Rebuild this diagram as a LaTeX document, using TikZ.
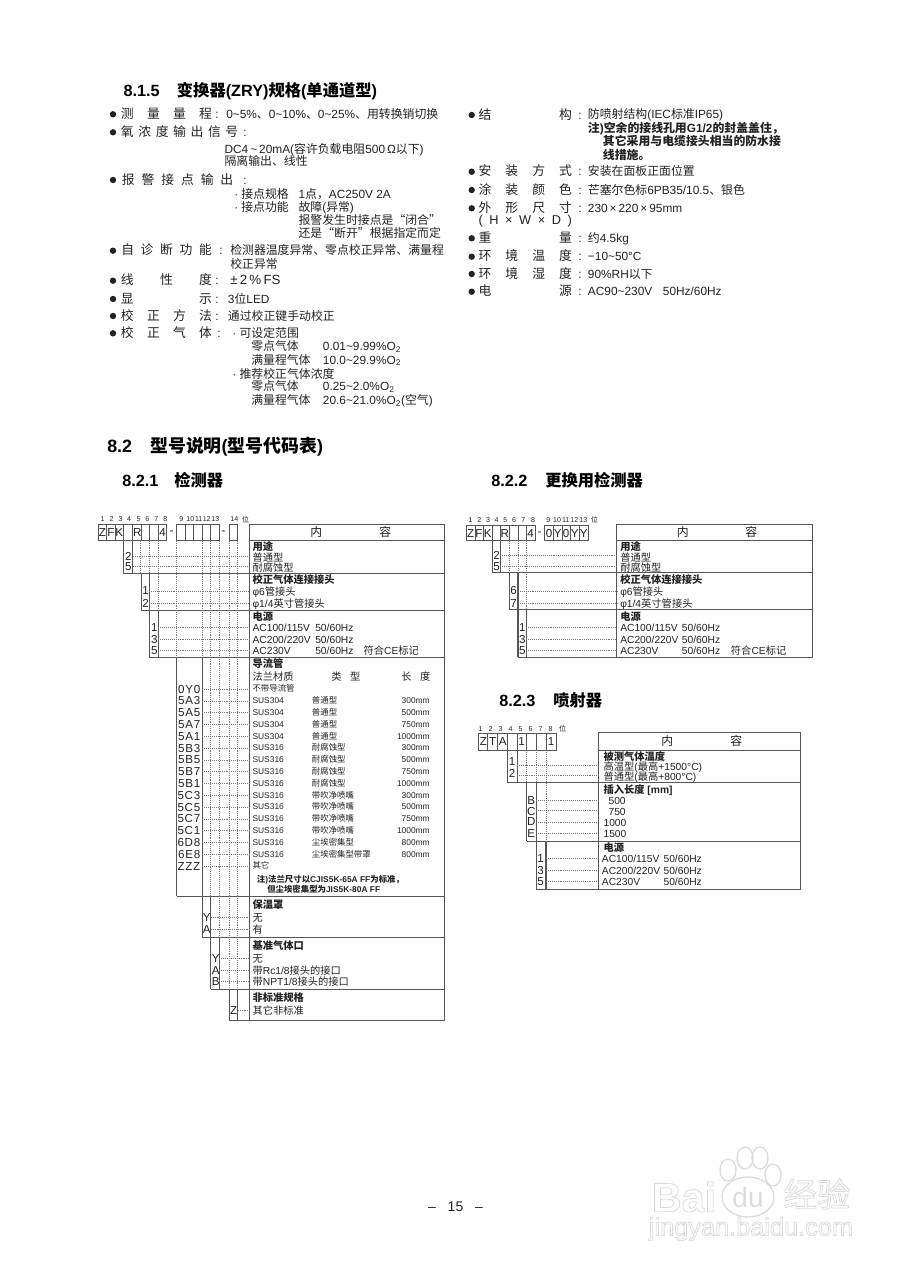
\documentclass[tikz,border=0pt]{standalone}
\usepackage{fontspec}
\setmainfont{Liberation Sans}
\newfontfamily\cjkfont{Noto Sans CJK SC}
% Chinese characters switch to the CJK family on their own
\XeTeXinterchartokenstate=1
\newXeTeXintercharclass\cjkcls
\count255="4E00
\loop\XeTeXcharclass\count255=\cjkcls\ifnum\count255<"9FFF\advance\count255 by 1\repeat
\XeTeXcharclass"3001=\cjkcls
\XeTeXcharclass"3002=\cjkcls
\XeTeXcharclass"FF0C=\cjkcls
\XeTeXcharclass"201C=\cjkcls
\XeTeXcharclass"201D=\cjkcls
\XeTeXinterchartoks 0 \cjkcls={\begingroup\cjkfont}
\XeTeXinterchartoks 4095 \cjkcls={\begingroup\cjkfont}
\XeTeXinterchartoks \cjkcls 0={\endgroup}
\XeTeXinterchartoks \cjkcls 4095={\endgroup}
\newcommand{\sprd}[2]{\makebox[#1][s]{#2}}
\newcommand{\tld}{\textasciitilde}
\newcommand{\outl}[1]{\special{pdf:code q 1 Tr 0.6 w 0.86 G}#1\special{pdf:code Q}}
\definecolor{inkgray}{HTML}{222222}
\definecolor{rulegray}{HTML}{555555}
\definecolor{dotgray}{HTML}{777777}
\definecolor{markgray}{HTML}{DCDCDC}
\tikzset{
  spectxt/.style={anchor=west,inner sep=0pt,text=inkgray,text height=7.4pt,text depth=1.2pt,font=\fontsize{8.9}{10}\selectfont},
  labtxt/.style={spectxt,font=\fontsize{9.6}{11}\selectfont},
  tabletxt/.style={anchor=west,inner sep=0pt,text=inkgray,text height=7.4pt,text depth=1pt,font=\fontsize{7.7}{9}\selectfont},
  boldtxt/.style={tabletxt,font=\fontsize{7.7}{9}\bfseries\selectfont},
  smalltxt/.style={anchor=west,inner sep=0pt,text=inkgray,text height=5.2pt,text depth=.8pt,font=\fontsize{6.3}{7}\selectfont},
  codetxt/.style={inner sep=0pt,text=inkgray,font=\fontsize{8.7}{9}\selectfont\addfontfeature{LetterSpace=6}},
  numtxt/.style={inner sep=0pt,text=inkgray,font=\fontsize{5.3}{6}\selectfont},
  headtxt/.style={anchor=west,inner sep=0pt,text=black,text height=9.6pt,text depth=1.8pt,font=\fontsize{12.2}{14}\bfseries\selectfont},
  bighead/.style={headtxt,font=\fontsize{13.4}{15}\bfseries\selectfont},
  rule/.style={draw=rulegray,line width=.72pt},
  dotline/.style={draw=dotgray,line width=.45pt,densely dotted},
  bullet/.style={fill=inkgray},
  wmark/.style={inner sep=0pt}
}
\begin{document}
\begin{tikzpicture}[x=.75pt,y=-.75pt]
    \useasboundingbox (0,0) rectangle (911,1280);

    % Section 8.1.5
    \node[headtxt] (h815) at (123.3,91.7) {8.1.5};
    \node[headtxt] (h815t) at (176.7,91.7) {变换器(ZRY)规格(单通道型)};

    % Bullets, left column
    \foreach \y in {114.3,132.3,180,250.7,280.7,299,316,333.3}
        \fill[bullet] (113,\y) circle (3.2);

    % Left column
    \node[labtxt] (la1) at (120.7,114.3) {\sprd{68.2pt}{测\hfill 量\hfill 量\hfill 程}};
    \node[spectxt] (lc1) at (215,114.3) {:};
    \node[spectxt] (lv1) at (226,114.3) {0\tld5\%、0\tld10\%、0\tld25\%、用转换销切换};
    \node[labtxt] (la2) at (120.7,132.3) {\sprd{88pt}{氧\hfill 浓\hfill 度\hfill 输\hfill 出\hfill 信\hfill 号}};
    \node[spectxt] (lc2) at (243,132.3) {:};
    \node[spectxt] (lv2a) at (224.3,149) {DC4\,\tld\,20mA(容许负载电阻500\,Ω以下)};
    \node[spectxt] (lv2b) at (224.3,161.7) {隔离输出、线性};
    \node[labtxt] (la3) at (121.7,180) {\sprd{83.5pt}{报\hfill 警\hfill 接\hfill 点\hfill 输\hfill 出}};
    \node[spectxt] (lc3) at (243,180) {:};
    \node[spectxt] (ld3a) at (234,194) {·};
    \node[spectxt] (lv3a) at (241,194) {接点规格};
    \node[spectxt] (lw3a) at (298.3,194) {1点，AC250V 2A};
    \node[spectxt] (ld3b) at (234,207.3) {·};
    \node[spectxt] (lv3b) at (241,207.3) {接点功能};
    \node[spectxt] (lw3b) at (298.3,207.3) {故障(异常)};
    \node[spectxt] (lw3c) at (298.3,220) {报警发生时接点是“闭合”};
    \node[spectxt] (lw3d) at (298.3,233.3) {还是“断开”根据指定而定};
    \node[labtxt] (la4) at (121,250.7) {\sprd{68pt}{自\hfill 诊\hfill 断\hfill 功\hfill 能}};
    \node[spectxt] (lc4) at (219,250.7) {:};
    \node[spectxt] (lv4a) at (230,250.7) {检测器温度异常、零点校正异常、满量程};
    \node[spectxt] (lv4b) at (230,264) {校正异常};
    \node[labtxt] (la5) at (120.7,280.7) {\sprd{68.2pt}{线\hfill 性\hfill 度}};
    \node[spectxt] (lc5) at (215,280.7) {:};
    \node[spectxt,font=\fontsize{10}{11}\selectfont] (lv5) at (230,280.7) {±\,2\,\%\,FS};
    \node[labtxt] (la6) at (120.7,299) {\sprd{68.2pt}{显\hfill 示}};
    \node[spectxt] (lc6) at (215,299) {:};
    \node[spectxt] (lv6) at (227.7,299) {3位LED};
    \node[labtxt] (la7) at (120.7,316) {\sprd{68.2pt}{校\hfill 正\hfill 方\hfill 法}};
    \node[spectxt] (lc7) at (215,316) {:};
    \node[spectxt] (lv7) at (227.7,316) {通过校正键手动校正};
    \node[labtxt] (la8) at (120.7,333.3) {\sprd{68.2pt}{校\hfill 正\hfill 气\hfill 体}};
    \node[spectxt] (lc8) at (217,333.3) {:};
    \node[spectxt] (ld8a) at (232,333.3) {·};
    \node[spectxt] (lv8a) at (239.3,333.3) {可设定范围};
    \node[spectxt] (lv8b) at (251,346.7) {零点气体};
    \node[spectxt] (lw8b) at (322.7,346.7) {0.01\tld9.99\%O\textsubscript{2}};
    \node[spectxt] (lv8c) at (251,360) {满量程气体};
    \node[spectxt] (lw8c) at (322.7,360) {10.0\tld29.9\%O\textsubscript{2}};
    \node[spectxt] (ld8d) at (232,374) {·};
    \node[spectxt] (lv8d) at (239.3,374) {推荐校正气体浓度};
    \node[spectxt] (lv8e) at (251,386.7) {零点气体};
    \node[spectxt] (lw8e) at (322.7,386.7) {0.25\tld2.0\%O\textsubscript{2}};
    \node[spectxt] (lv8f) at (251,400.7) {满量程气体};
    \node[spectxt] (lw8f) at (322.7,400.7) {20.6\tld21.0\%O\textsubscript{2}(空气)};

    % Bullets, right column
    \foreach \y in {115,171.7,190,208.3,238.3,256.7,274,291.7}
        \fill[bullet] (471.7,\y) circle (3.2);

    % Right column
    \node[labtxt] (ra1) at (478.3,115) {\sprd{70pt}{结\hfill 构}};
    \node[spectxt] (rc1) at (578,115) {:};
    \node[spectxt] (rv1) at (587.7,114) {防喷射结构(IEC标准IP65)};
    \node[spectxt,font=\fontsize{8.9}{10}\bfseries\selectfont] (rv1b) at (587.7,128.3) {注)空余的接线孔用G1/2的封盖盖住，};
    \node[spectxt,font=\fontsize{8.9}{10}\bfseries\selectfont] (rv1c) at (602.7,141.7) {其它采用与电缆接头相当的防水接};
    \node[spectxt,font=\fontsize{8.9}{10}\bfseries\selectfont] (rv1d) at (602.7,155) {线措施。};
    \node[labtxt] (ra2) at (478.3,171.7) {\sprd{70pt}{安\hfill 装\hfill 方\hfill 式}};
    \node[spectxt] (rc2) at (578,171.7) {:};
    \node[spectxt] (rv2) at (587.7,171.7) {安装在面板正面位置};
    \node[labtxt] (ra3) at (478.3,190) {\sprd{70pt}{涂\hfill 装\hfill 颜\hfill 色}};
    \node[spectxt] (rc3) at (578,190) {:};
    \node[spectxt] (rv3) at (587.7,190) {芒塞尔色标6PB35/10.5、银色};
    \node[labtxt] (ra4) at (478.3,208.3) {\sprd{70pt}{外\hfill 形\hfill 尺\hfill 寸}};
    \node[spectxt] (rc4) at (578,208.3) {:};
    \node[spectxt] (rv4) at (587.7,208.3) {230\,×\,220\,×\,95mm};
    \node[labtxt] (ra4b) at (478.3,220) {\sprd{70pt}{(\hfill H\hfill ×\hfill W\hfill ×\hfill D\hfill )}};
    \node[labtxt] (ra5) at (478.3,238.3) {\sprd{70pt}{重\hfill 量}};
    \node[spectxt] (rc5) at (578,238.3) {:};
    \node[spectxt] (rv5) at (587.7,238.3) {约4.5kg};
    \node[labtxt] (ra6) at (478.3,256.7) {\sprd{70pt}{环\hfill 境\hfill 温\hfill 度}};
    \node[spectxt] (rc6) at (578,256.7) {:};
    \node[spectxt] (rv6) at (587.7,256.7) {−10\tld50°C};
    \node[labtxt] (ra7) at (478.3,274) {\sprd{70pt}{环\hfill 境\hfill 湿\hfill 度}};
    \node[spectxt] (rc7) at (578,274) {:};
    \node[spectxt] (rv7) at (587.7,274) {90\%RH以下};
    \node[labtxt] (ra8) at (478.3,291.7) {\sprd{70pt}{电\hfill 源}};
    \node[spectxt] (rc8) at (578,291.7) {:};
    \node[spectxt] (rv8) at (587.7,291.7) {AC90\tld230V\hspace{.9em}50Hz/60Hz};

    % Section headings
    \node[bighead] (h82) at (107,447) {8.2};
    \node[bighead] (h82t) at (150,447) {型号说明(型号代码表)};
    \node[headtxt] (h821) at (122,481) {8.2.1};
    \node[headtxt] (h821t) at (174,481) {检测器};
    \node[headtxt] (h822) at (491,481) {8.2.2};
    \node[headtxt] (h822t) at (545,481) {更换用检测器};
    \node[headtxt] (h823) at (499,701) {8.2.3};
    \node[headtxt] (h823t) at (553,701) {喷射器};

    % Table 8.2.1: digit numbers
    \node[numtxt] (an1) at (102.7,519.3) {1};
    \node[numtxt] (an2) at (111.7,519.3) {2};
    \node[numtxt] (an3) at (120.7,519.3) {3};
    \node[numtxt] (an4) at (129,519.3) {4};
    \node[numtxt] (an5) at (138.7,519.3) {5};
    \node[numtxt] (an6) at (147.3,519.3) {6};
    \node[numtxt] (an7) at (156.3,519.3) {7};
    \node[numtxt] (an8) at (165.3,519.3) {8};
    \node[numtxt] (an9) at (181.3,519.3) {9};
    \node[numtxt] (an10) at (190.3,519.3) {10};
    \node[numtxt] (an11) at (198.7,519.3) {11};
    \node[numtxt] (an12) at (206.7,519.3) {12};
    \node[numtxt] (an13) at (215.3,519.3) {13};
    \node[numtxt] (an14) at (234.3,519.3) {14};
    \node[numtxt] (anw) at (245.3,519.3) {位};

    % Table 8.2.1: code cells
    \draw[rule] (98,524.5) rectangle (166.7,540.7);
    \draw[rule] (106.5,524.5) -- ++(0,16.2) (115,524.5) -- ++(0,16.2) (123,524.5) -- ++(0,16.2) (132.7,524.5) -- ++(0,16.2);
    \draw[rule] (141,524.5) -- ++(0,16.2) (149.3,524.5) -- ++(0,16.2) (158.3,524.5) -- ++(0,16.2);
    \draw[rule] (176.7,524.5) rectangle (219.3,540.7);
    \draw[rule] (185,524.5) -- ++(0,16.2) (193.7,524.5) -- ++(0,16.2) (202.3,524.5) -- ++(0,16.2) (210.7,524.5) -- ++(0,16.2);
    \draw[rule] (229.3,524.5) rectangle (237.7,540.7);
    \node[codetxt] (ac1) at (102.3,532.7) {Z};
    \node[codetxt] (ac2) at (111,532.7) {F};
    \node[codetxt] (ac3) at (119.3,532.7) {K};
    \node[codetxt] (ac5) at (137.3,532.7) {R};
    \node[codetxt] (ac8) at (162.7,532.7) {4};
    \node[codetxt] (ad1) at (171.5,532.7) {-};
    \node[codetxt] (ad2) at (223.5,532.7) {-};

    % Table 8.2.1: frame and rows
    \draw[rule] (249.7,524.3) rectangle (444,1020.3);
    \draw[rule] (249.7,540.7) -- (444,540.7);
    \draw[rule] (123,573.3) -- (444,573.3);
    \draw[rule] (141,610) -- (444,610);
    \draw[rule] (149.3,657.7) -- (444,657.7);
    \draw[rule] (176.7,896) -- (444,896);
    \draw[rule] (202.3,937.3) -- (444,937.3);
    \draw[rule] (210.7,989.3) -- (444,989.3);
    \draw[rule] (229.3,1020.3) -- (444,1020.3);

    % Table 8.2.1: steps
    \draw[rule] (123,540.7) -- (123,573.3) (132.7,540.7) -- (132.7,573.3);
    \draw[rule] (141,573.3) -- (141,610) (149.3,573.3) -- (149.3,610);
    \draw[rule] (149.3,610) -- (149.3,657.7) (158.3,610) -- (158.3,657.7);
    \draw[rule] (176.7,657.7) -- (176.7,896) (202.3,657.7) -- (202.3,896);
    \draw[rule] (202.3,896) -- (202.3,937.3) (210.7,896) -- (210.7,937.3);
    \draw[rule] (210.7,937.3) -- (210.7,989.3) (219.3,937.3) -- (219.3,989.3);
    \draw[rule] (229.3,989.3) -- (229.3,1020.3) (237.7,989.3) -- (237.7,1020.3);

    % Table 8.2.1: dotted verticals
    \draw[dotline] (140,540.7) -- (140,573.3);
    \draw[dotline] (149.3,540.7) -- (149.3,573.3);
    \draw[dotline] (158.3,540.7) -- (158.3,610);
    \draw[dotline] (176.7,540.7) -- (176.7,657.7);
    \draw[dotline] (202.3,540.7) -- (202.3,657.7);
    \draw[dotline] (210.7,540.7) -- (210.7,896);
    \draw[dotline] (219.3,540.7) -- (219.3,937.3);
    \draw[dotline] (229.3,540.7) -- (229.3,989.3);
    \draw[dotline] (237.7,540.7) -- (237.7,989.3);

    % Table 8.2.1: dotted rows
    \draw[dotline] (132.7,556.7) -- (249.7,556.7);
    \draw[dotline] (132.7,566.7) -- (249.7,566.7);
    \draw[dotline] (149.3,591) -- (249.7,591);
    \draw[dotline] (149.3,603.3) -- (249.7,603.3);
    \draw[dotline] (158.3,627.7) -- (249.7,627.7);
    \draw[dotline] (158.3,639.3) -- (249.7,639.3);
    \draw[dotline] (158.3,650.7) -- (249.7,650.7);
    \foreach \y in {689,700.8,712.6,724.4,736.2,748,759.8,771.6,783.4,795.2,807,818.8,830.6,842.4,854.2,866}
        \draw[dotline] (202.3,\y) -- (249.7,\y);
    \draw[dotline] (210.7,917.7) -- (249.7,917.7);
    \draw[dotline] (210.7,929) -- (249.7,929);
    \draw[dotline] (219.3,958.3) -- (249.7,958.3);
    \draw[dotline] (219.3,970) -- (249.7,970);
    \draw[dotline] (219.3,981.7) -- (249.7,981.7);
    \draw[dotline] (237.7,1010.7) -- (249.7,1010.7);

    % Table 8.2.1: texts
    \node[spectxt] (ahn) at (310,532.7) {内};
    \node[spectxt] (ahr) at (379,532.7) {容};
    \node[boldtxt] (ab1) at (252.3,546.7) {用途};
    \node[codetxt] (ak1a) at (128.3,556.7) {2};
    \node[tabletxt] (at1a) at (252.3,557.7) {普通型};
    \node[codetxt] (ak1b) at (128.3,566.7) {5};
    \node[tabletxt] (at1b) at (252.3,567.3) {耐腐蚀型};
    \node[boldtxt] (ab2) at (252.3,579.3) {校正气体连接接头};
    \node[codetxt] (ak2a) at (145.7,591) {1};
    \node[tabletxt] (at2a) at (252.3,591) {φ6管接头};
    \node[codetxt] (ak2b) at (145.7,603.3) {2};
    \node[tabletxt] (at2b) at (252.3,603.3) {φ1/4英寸管接头};
    \node[boldtxt] (ab3) at (252.3,616.7) {电源};
    \node[codetxt] (ak3a) at (154.3,627.7) {1};
    \node[tabletxt] (at3a) at (252.3,627.7) {AC100/115V};
    \node[tabletxt] (af3a) at (315,627.7) {50/60Hz};
    \node[codetxt] (ak3b) at (154.3,639.3) {3};
    \node[tabletxt] (at3b) at (252.3,639.3) {AC200/220V};
    \node[tabletxt] (af3b) at (315,639.3) {50/60Hz};
    \node[codetxt] (ak3c) at (154.3,650.7) {5};
    \node[tabletxt] (at3c) at (252.3,650.7) {AC230V};
    \node[tabletxt] (af3c) at (315,650.7) {50/60Hz};
    \node[tabletxt] (ace) at (363.3,650.7) {符合CE标记};

    % Table 8.2.1: flow guide tube
    \node[boldtxt] (ab4) at (252.3,663.3) {导流管};
    \node[tabletxt] (at4h) at (252.3,676.7) {法兰材质};
    \node[tabletxt] (at4t) at (331,676.7) {\sprd{21.8pt}{类\hfill 型}};
    \node[tabletxt] (at4l) at (401,676.7) {\sprd{21.8pt}{长\hfill 度}};
    \node[codetxt,anchor=east] (p0) at (200.5,689) {0Y0};
    \node[smalltxt] (q0) at (252.3,689) {不带导流管};
    \node[codetxt,anchor=east] (p1) at (200.5,700.8) {5A3};
    \node[smalltxt] (q1) at (252.3,700.8) {SUS304};
    \node[smalltxt] (u1) at (311.7,700.8) {普通型};
    \node[smalltxt,anchor=east] (v1) at (430,700.8) {300mm};
    \node[codetxt,anchor=east] (p2) at (200.5,712.6) {5A5};
    \node[smalltxt] (q2) at (252.3,712.6) {SUS304};
    \node[smalltxt] (u2) at (311.7,712.6) {普通型};
    \node[smalltxt,anchor=east] (v2) at (430,712.6) {500mm};
    \node[codetxt,anchor=east] (p3) at (200.5,724.4) {5A7};
    \node[smalltxt] (q3) at (252.3,724.4) {SUS304};
    \node[smalltxt] (u3) at (311.7,724.4) {普通型};
    \node[smalltxt,anchor=east] (v3) at (430,724.4) {750mm};
    \node[codetxt,anchor=east] (p4) at (200.5,736.2) {5A1};
    \node[smalltxt] (q4) at (252.3,736.2) {SUS304};
    \node[smalltxt] (u4) at (311.7,736.2) {普通型};
    \node[smalltxt,anchor=east] (v4) at (430,736.2) {1000mm};
    \node[codetxt,anchor=east] (p5) at (200.5,748) {5B3};
    \node[smalltxt] (q5) at (252.3,748) {SUS316};
    \node[smalltxt] (u5) at (311.7,748) {耐腐蚀型};
    \node[smalltxt,anchor=east] (v5) at (430,748) {300mm};
    \node[codetxt,anchor=east] (p6) at (200.5,759.8) {5B5};
    \node[smalltxt] (q6) at (252.3,759.8) {SUS316};
    \node[smalltxt] (u6) at (311.7,759.8) {耐腐蚀型};
    \node[smalltxt,anchor=east] (v6) at (430,759.8) {500mm};
    \node[codetxt,anchor=east] (p7) at (200.5,771.6) {5B7};
    \node[smalltxt] (q7) at (252.3,771.6) {SUS316};
    \node[smalltxt] (u7) at (311.7,771.6) {耐腐蚀型};
    \node[smalltxt,anchor=east] (v7) at (430,771.6) {750mm};
    \node[codetxt,anchor=east] (p8) at (200.5,783.4) {5B1};
    \node[smalltxt] (q8) at (252.3,783.4) {SUS316};
    \node[smalltxt] (u8) at (311.7,783.4) {耐腐蚀型};
    \node[smalltxt,anchor=east] (v8) at (430,783.4) {1000mm};
    \node[codetxt,anchor=east] (p9) at (200.5,795.2) {5C3};
    \node[smalltxt] (q9) at (252.3,795.2) {SUS316};
    \node[smalltxt] (u9) at (311.7,795.2) {带吹净喷嘴};
    \node[smalltxt,anchor=east] (v9) at (430,795.2) {300mm};
    \node[codetxt,anchor=east] (p10) at (200.5,807) {5C5};
    \node[smalltxt] (q10) at (252.3,807) {SUS316};
    \node[smalltxt] (u10) at (311.7,807) {带吹净喷嘴};
    \node[smalltxt,anchor=east] (v10) at (430,807) {500mm};
    \node[codetxt,anchor=east] (p11) at (200.5,818.8) {5C7};
    \node[smalltxt] (q11) at (252.3,818.8) {SUS316};
    \node[smalltxt] (u11) at (311.7,818.8) {带吹净喷嘴};
    \node[smalltxt,anchor=east] (v11) at (430,818.8) {750mm};
    \node[codetxt,anchor=east] (p12) at (200.5,830.6) {5C1};
    \node[smalltxt] (q12) at (252.3,830.6) {SUS316};
    \node[smalltxt] (u12) at (311.7,830.6) {带吹净喷嘴};
    \node[smalltxt,anchor=east] (v12) at (430,830.6) {1000mm};
    \node[codetxt,anchor=east] (p13) at (200.5,842.4) {6D8};
    \node[smalltxt] (q13) at (252.3,842.4) {SUS316};
    \node[smalltxt] (u13) at (311.7,842.4) {尘埃密集型};
    \node[smalltxt,anchor=east] (v13) at (430,842.4) {800mm};
    \node[codetxt,anchor=east] (p14) at (200.5,854.2) {6E8};
    \node[smalltxt] (q14) at (252.3,854.2) {SUS316};
    \node[smalltxt] (u14) at (311.7,854.2) {尘埃密集型带罩};
    \node[smalltxt,anchor=east] (v14) at (430,854.2) {800mm};
    \node[codetxt,anchor=east] (p15) at (200.5,866) {ZZZ};
    \node[smalltxt] (q15) at (252.3,866) {其它};
    \node[smalltxt,font=\fontsize{6.3}{7}\bfseries\selectfont] (anote1) at (256.7,880) {注)法兰尺寸以CJIS5K-65A FF为标准，};
    \node[smalltxt,font=\fontsize{6.3}{7}\bfseries\selectfont] (anote2) at (267,889.3) {但尘埃密集型为JIS5K-80A FF};

    % Table 8.2.1: last sections
    \node[boldtxt] (ab5) at (252.3,904) {保温罩};
    \node[codetxt] (ak5a) at (206.7,917.7) {Y};
    \node[tabletxt] (at5a) at (252.3,917.7) {无};
    \node[codetxt] (ak5b) at (206.7,929) {A};
    \node[tabletxt] (at5b) at (252.3,929) {有};
    \node[boldtxt] (ab6) at (252.3,945.3) {基准气体口};
    \node[codetxt] (ak6a) at (215.7,958.3) {Y};
    \node[tabletxt] (at6a) at (252.3,958.3) {无};
    \node[codetxt] (ak6b) at (215.7,970) {A};
    \node[tabletxt] (at6b) at (252.3,970) {带Rc1/8接头的接口};
    \node[codetxt] (ak6c) at (215.7,981.7) {B};
    \node[tabletxt] (at6c) at (252.3,981.7) {带NPT1/8接头的接口};
    \node[boldtxt] (ab7) at (252.3,997.3) {非标准规格};
    \node[codetxt] (ak7) at (233.7,1010.7) {Z};
    \node[tabletxt] (at7) at (252.3,1010.7) {其它非标准};

    % Table 8.2.2: digit numbers
    \node[numtxt] (bn1) at (470.7,520) {1};
    \node[numtxt] (bn2) at (479.3,520) {2};
    \node[numtxt] (bn3) at (488,520) {3};
    \node[numtxt] (bn4) at (496.7,520) {4};
    \node[numtxt] (bn5) at (505.3,520) {5};
    \node[numtxt] (bn6) at (514,520) {6};
    \node[numtxt] (bn7) at (523.3,520) {7};
    \node[numtxt] (bn8) at (533,520) {8};
    \node[numtxt] (bn9) at (548.3,520) {9};
    \node[numtxt] (bn10) at (557,520) {10};
    \node[numtxt] (bn11) at (565.7,520) {11};
    \node[numtxt] (bn12) at (574.3,520) {12};
    \node[numtxt] (bn13) at (583.3,520) {13};
    \node[numtxt] (bnw) at (594.3,520) {位};

    % Table 8.2.2: code cells
    \draw[rule] (466,525) rectangle (535,540.7);
    \draw[rule] (475,525) -- ++(0,15.7) (483.3,525) -- ++(0,15.7) (492.3,525) -- ++(0,15.7) (500.3,525) -- ++(0,15.7);
    \draw[rule] (509.3,525) -- ++(0,15.7) (518,525) -- ++(0,15.7) (526.3,525) -- ++(0,15.7);
    \draw[rule] (544.3,525) rectangle (588.3,540.7);
    \draw[rule] (553.3,525) -- ++(0,15.7) (562,525) -- ++(0,15.7) (570.7,525) -- ++(0,15.7) (579.3,525) -- ++(0,15.7);
    \node[codetxt] (bc1) at (470.7,533.3) {Z};
    \node[codetxt] (bc2) at (479,533.3) {F};
    \node[codetxt] (bc3) at (487.7,533.3) {K};
    \node[codetxt] (bc5) at (504.7,533.3) {R};
    \node[codetxt] (bc8) at (530.7,533.3) {4};
    \node[codetxt] (bd1) at (539.5,533.3) {-};
    \node[codetxt] (bc9) at (549,533.3) {0};
    \node[codetxt] (bc10) at (557.7,533.3) {Y};
    \node[codetxt] (bc11) at (566,533.3) {0};
    \node[codetxt] (bc12) at (574.7,533.3) {Y};
    \node[codetxt] (bc13) at (583.7,533.3) {Y};

    % Table 8.2.2: frame, rows and steps
    \draw[rule] (616.7,524) rectangle (812,657);
    \draw[rule] (616.7,540.7) -- (812,540.7);
    \draw[rule] (492.3,572.7) -- (812,572.7);
    \draw[rule] (509.3,609) -- (812,609);
    \draw[rule] (518,657) -- (812,657);
    \draw[rule] (492.3,540.7) -- (492.3,572.7) (500.3,540.7) -- (500.3,572.7);
    \draw[rule] (509.3,572.7) -- (509.3,609);
    \draw[rule,line width=1.3pt] (518,572.7) -- (518,657);
    \draw[rule] (526.3,609) -- (526.3,657);

    % Table 8.2.2: dotted lines
    \draw[dotline] (509.3,540.7) -- (509.3,572.7);
    \draw[dotline] (518,540.7) -- (518,572.7);
    \draw[dotline] (526.3,540.7) -- (526.3,609);
    \draw[dotline] (500.3,555.7) -- (616.7,555.7);
    \draw[dotline] (500.3,566.7) -- (616.7,566.7);
    \draw[dotline] (518,591) -- (616.7,591);
    \draw[dotline] (518,603.3) -- (616.7,603.3);
    \draw[dotline] (526.3,627.7) -- (616.7,627.7);
    \draw[dotline] (526.3,639.3) -- (616.7,639.3);
    \draw[dotline] (526.3,650.7) -- (616.7,650.7);

    % Table 8.2.2: texts
    \node[spectxt] (bhn) at (676.7,532.7) {内};
    \node[spectxt] (bhr) at (745,532.7) {容};
    \node[boldtxt] (bb1) at (620,546.7) {用途};
    \node[codetxt] (bk1a) at (496.7,555.7) {2};
    \node[tabletxt] (bt1a) at (620,557.7) {普通型};
    \node[codetxt] (bk1b) at (496.7,566.7) {5};
    \node[tabletxt] (bt1b) at (620,567.3) {耐腐蚀型};
    \node[boldtxt] (bb2) at (620,579.3) {校正气体连接接头};
    \node[codetxt] (bk2a) at (513.7,591) {6};
    \node[tabletxt] (bt2a) at (620,591) {φ6管接头};
    \node[codetxt] (bk2b) at (513.7,603.3) {7};
    \node[tabletxt] (bt2b) at (620,603.3) {φ1/4英寸管接头};
    \node[boldtxt] (bb3) at (620,616.7) {电源};
    \node[codetxt] (bk3a) at (522.3,627.7) {1};
    \node[tabletxt] (bt3a) at (620,627.7) {AC100/115V};
    \node[tabletxt] (bf3a) at (681.7,627.7) {50/60Hz};
    \node[codetxt] (bk3b) at (522.3,639.3) {3};
    \node[tabletxt] (bt3b) at (620,639.3) {AC200/220V};
    \node[tabletxt] (bf3b) at (681.7,639.3) {50/60Hz};
    \node[codetxt] (bk3c) at (522.3,650.7) {5};
    \node[tabletxt] (bt3c) at (620,650.7) {AC230V};
    \node[tabletxt] (bf3c) at (681.7,650.7) {50/60Hz};
    \node[tabletxt] (bce) at (730.7,650.7) {符合CE标记};

    % Table 8.2.3: digit numbers
    \node[numtxt] (cn1) at (480.7,729) {1};
    \node[numtxt] (cn2) at (490.7,729) {2};
    \node[numtxt] (cn3) at (500.7,729) {3};
    \node[numtxt] (cn4) at (510.7,729) {4};
    \node[numtxt] (cn5) at (520.7,729) {5};
    \node[numtxt] (cn6) at (530.7,729) {6};
    \node[numtxt] (cn7) at (540.7,729) {7};
    \node[numtxt] (cn8) at (550.7,729) {8};
    \node[numtxt] (cnw) at (562.7,729) {位};

    % Table 8.2.3: code cells
    \draw[rule] (478.3,733.3) rectangle (556,750);
    \draw[rule] (487.7,733.3) -- ++(0,16.7) (497.3,733.3) -- ++(0,16.7) (507.3,733.3) -- ++(0,16.7) (517,733.3) -- ++(0,16.7);
    \draw[rule] (526.7,733.3) -- ++(0,16.7) (536.3,733.3) -- ++(0,16.7) (546,733.3) -- ++(0,16.7);
    \node[codetxt] (cc1) at (483.3,741.7) {Z};
    \node[codetxt] (cc2) at (492.7,741.7) {T};
    \node[codetxt] (cc3) at (502.7,741.7) {A};
    \node[codetxt] (cc5) at (521.7,741.7) {1};
    \node[codetxt] (cc8) at (551,741.7) {1};

    % Table 8.2.3: frame, rows and steps
    \draw[rule] (598.3,732.7) rectangle (800.7,889);
    \draw[rule] (598.3,750) -- (800.7,750);
    \draw[rule] (507.3,782.3) -- (800.7,782.3);
    \draw[rule] (526.7,841) -- (800.7,841);
    \draw[rule] (536.3,889) -- (800.7,889);
    \draw[rule] (507.3,750) -- (507.3,782.3) (517,750) -- (517,782.3);
    \draw[rule] (526.7,782.3) -- (526.7,841) (536.3,782.3) -- (536.3,841);
    \draw[rule] (536.3,841) -- (536.3,889);
    \draw[rule,line width=1.3pt] (546,841) -- (546,889);

    % Table 8.2.3: dotted lines
    \draw[dotline] (526.7,750) -- (526.7,782.3);
    \draw[dotline] (536.3,750) -- (536.3,782.3);
    \draw[dotline] (546,750) -- (546,841);
    \draw[dotline] (517,765) -- (598.3,765);
    \draw[dotline] (517,775) -- (598.3,775);
    \draw[dotline] (536.3,800) -- (598.3,800);
    \draw[dotline] (536.3,810.7) -- (598.3,810.7);
    \draw[dotline] (536.3,822) -- (598.3,822);
    \draw[dotline] (536.3,833) -- (598.3,833);
    \draw[dotline] (546,858.3) -- (598.3,858.3);
    \draw[dotline] (546,870) -- (598.3,870);
    \draw[dotline] (546,881.7) -- (598.3,881.7);

    % Table 8.2.3: texts
    \node[spectxt] (chn) at (661,741.7) {内};
    \node[spectxt] (chr) at (730,741.7) {容};
    \node[boldtxt] (cb1) at (603.3,756) {被测气体温度};
    \node[codetxt] (ck1a) at (512,761.7) {1};
    \node[tabletxt] (ct1a) at (603.3,766) {高温型(最高+1500°C)};
    \node[codetxt] (ck1b) at (512,773.3) {2};
    \node[tabletxt] (ct1b) at (603.3,776) {普通型(最高+800°C)};
    \node[boldtxt] (cb2) at (603.3,789.3) {插入长度 [mm]};
    \node[codetxt] (ck2a) at (531.3,801) {B};
    \node[tabletxt] (ct2a) at (608.3,800) {500};
    \node[codetxt] (ck2b) at (531.3,811.3) {C};
    \node[tabletxt] (ct2b) at (608.3,811) {750};
    \node[codetxt] (ck2c) at (531.3,822) {D};
    \node[tabletxt] (ct2c) at (603.3,822) {1000};
    \node[codetxt] (ck2d) at (531.3,833.3) {E};
    \node[tabletxt] (ct2d) at (603.3,833) {1500};
    \node[boldtxt] (cb3) at (603.3,847.3) {电源};
    \node[codetxt] (ck3a) at (540.7,858.3) {1};
    \node[tabletxt] (ct3a) at (601.7,858) {AC100/115V};
    \node[tabletxt] (cf3a) at (663.3,858) {50/60Hz};
    \node[codetxt] (ck3b) at (540.7,870) {3};
    \node[tabletxt] (ct3b) at (601.7,870) {AC200/220V};
    \node[tabletxt] (cf3b) at (663.3,870) {50/60Hz};
    \node[codetxt] (ck3c) at (540.7,881.7) {5};
    \node[tabletxt] (ct3c) at (601.7,881) {AC230V};
    \node[tabletxt] (cf3c) at (663.3,881) {50/60Hz};

    % Page number
    \node[inner sep=0pt,text=inkgray,font=\fontsize{10.5}{12}\selectfont] (page) at (455.5,1207) {–\hspace{.85em}15\hspace{.85em}–};

    % Watermark
    \draw[markgray,line width=1pt] (728,1170) ellipse (8 and 11);
    \draw[markgray,line width=1pt] (745,1158) ellipse (8 and 11);
    \draw[markgray,line width=1pt] (760,1158) ellipse (8 and 11);
    \draw[markgray,line width=1pt] (773,1175) ellipse (8 and 11);
    \draw[markgray,line width=1pt] (748,1197) ellipse (26 and 20);
    \node[wmark,font=\fontsize{31}{32}\bfseries\selectfont] (wbai) at (684,1197) {\outl{Bai}};
    \node[wmark,font=\fontsize{21}{22}\selectfont,text=markgray] (wdu) at (748,1197) {du};
    \node[wmark,font=\fontsize{25}{26}\selectfont] (wjy) at (817,1194) {\outl{\cjkfont 经验}};
    \node[wmark,font=\fontsize{19}{20}\selectfont] (wurl) at (751,1229) {\outl{jingyan.baidu.com}};
\end{tikzpicture}
\end{document}
